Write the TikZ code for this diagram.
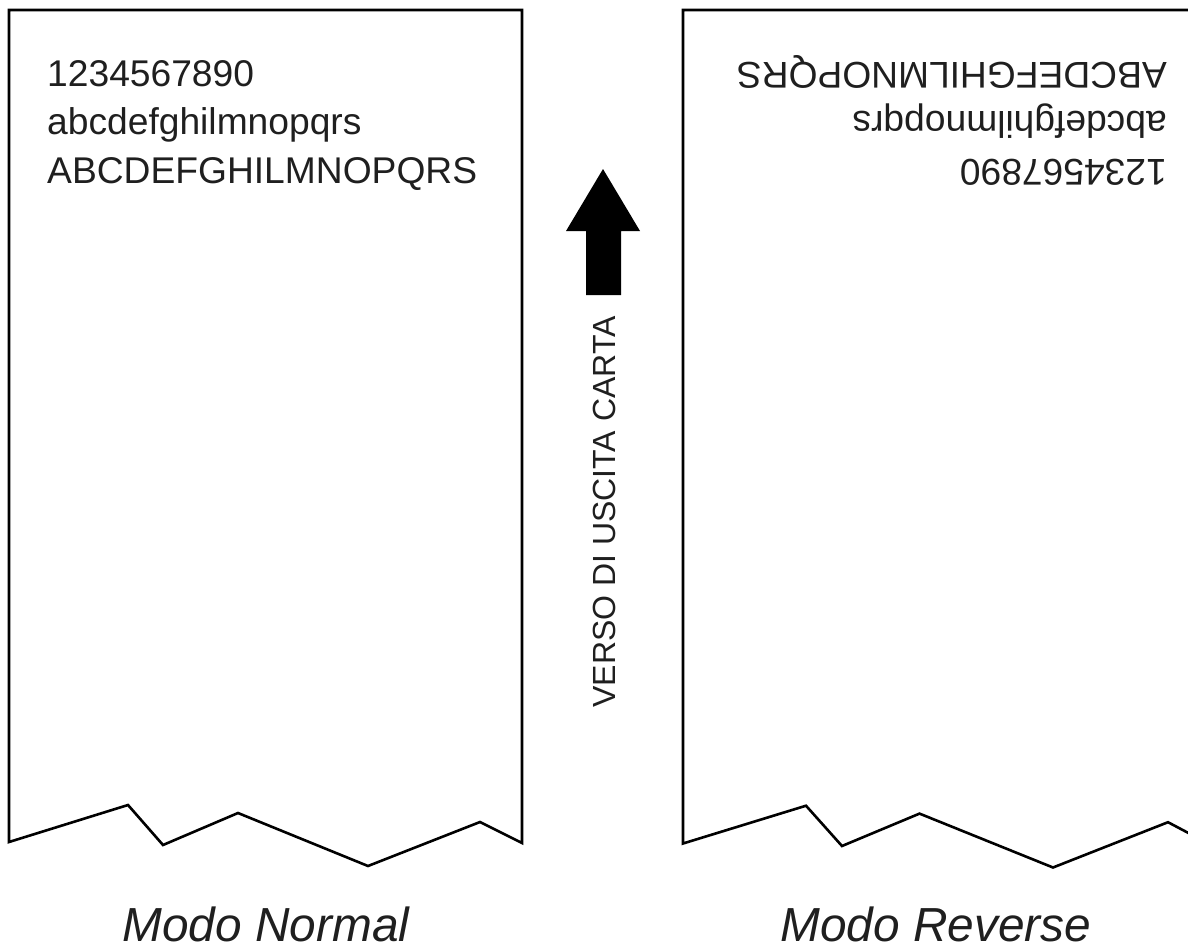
\documentclass[tikz,border=0pt]{standalone}
\usepackage{fontspec}
\setmainfont{Liberation Sans}
\begin{document}
\begin{tikzpicture}[x=1pt,y=-1pt,
  paper/.style={draw=black,line width=2.6pt,line join=miter},
  body/.style={inner sep=0pt,anchor=base west,font=\fontsize{37.2}{40}\selectfont,text=black!88},
  side/.style={inner sep=0pt,anchor=base,rotate=90,font=\fontsize{32}{34}\selectfont,text=black!88},
  caption/.style={inner sep=0pt,anchor=base,font=\fontsize{47.8}{50}\selectfont\itshape,text=black!88}]
\useasboundingbox (0,0) rectangle (1188,950);
% left paper (normal mode)
\draw[paper] (9,10) -- (522,10) -- (522,843) -- (480,822) -- (368,866) -- (238,813)
  -- (163,845) -- (128,805) -- (9,842) -- cycle;
\node[body] (n1) at (47,86) {1234567890};
\node[body] (n2) at (47,134.5) {abcdefghilmnopqrs};
\node[body] (n3) at (47,183) {ABCDEFGHILMNOPQRS};
% right paper (reverse mode), cut by the picture edge
\begin{scope}
\clip (0,0) rectangle (1188,950);
\draw[paper] (1230,10) -- (683,10) -- (683,843.5) -- (806,805.7) -- (842,846)
  -- (919.5,813.6) -- (1053,867.5) -- (1168,822.2) -- (1230,855);
\end{scope}
\node[body,rotate=180] (r1) at (1167,63) {ABCDEFGHILMNOPQRS};
\node[body,rotate=180] (r2) at (1167,111) {abcdefghilmnopqrs};
\node[body,rotate=180] (r3) at (1167,159) {1234567890};
% feed direction arrow
\fill[black] (603,169) -- (640,231) -- (621,231) -- (621,295) -- (586,295) -- (586,231)
  -- (566,231) -- cycle;
\node[side] (dir) at (615,512) {VERSO DI USCITA CARTA};
% captions
\node[caption] (c1) at (266,941) {Modo Normal};
\node[caption] (c2) at (936,941) {Modo Reverse};
\end{tikzpicture}
\end{document}
